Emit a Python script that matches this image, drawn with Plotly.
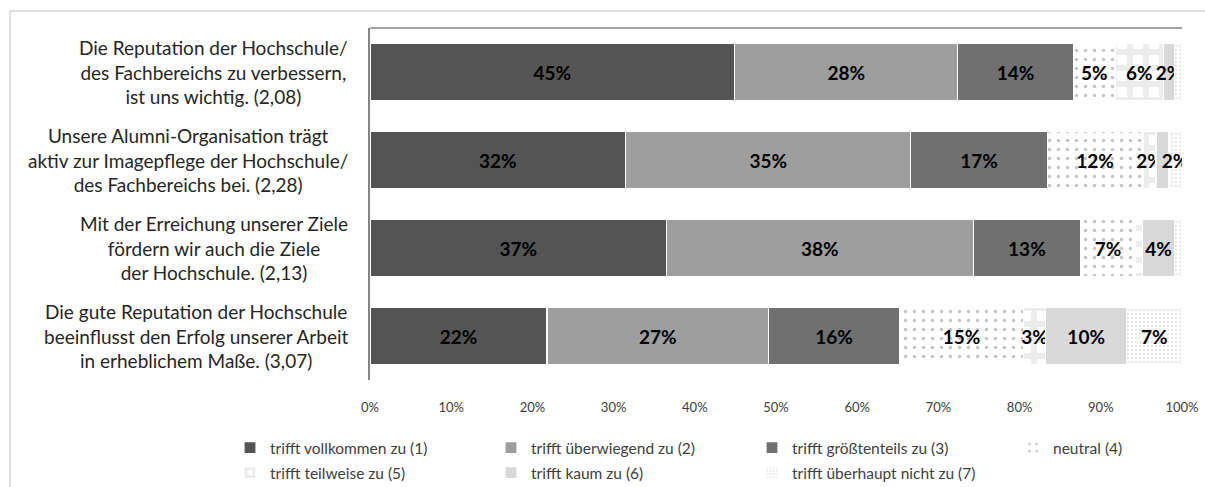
import plotly.graph_objects as go

# ---- data ----
categories = [
    "Die Reputation der Hochschule/<br>des Fachbereichs zu verbessern,<br>ist uns wichtig. (2,08)",
    "Unsere Alumni-Organisation trägt<br>aktiv zur Imagepflege der Hochschule/<br>des Fachbereichs bei. (2,28)",
    "Mit der Erreichung unserer Ziele<br>fördern wir auch die Ziele<br>der Hochschule. (2,13)",
    "Die gute Reputation der Hochschule<br>beeinflusst den Erfolg unserer Arbeit<br>in erheblichem Maße. (3,07)",
]
series_names = [
    "trifft vollkommen zu (1)",
    "trifft überwiegend zu (2)",
    "trifft größtenteils zu (3)",
    "neutral (4)",
    "trifft teilweise zu (5)",
    "trifft kaum zu (6)",
    "trifft überhaupt nicht zu (7)",
]
vollkommen = [44.9, 31.5, 36.5, 21.8]
ueberwiegend = [27.5, 35.1, 37.8, 27.3]
groesstenteils = [14.2, 16.8, 13.2, 16.1]
neutral = [5.2, 11.8, 6.8, 15.3]
teilweise = [5.9, 1.6, 0.8, 2.7]
kaum = [1.4, 1.5, 4.0, 10.0]
ueberhaupt = [0.9, 1.7, 0.9, 6.8]

labels_vollkommen = ["45%", "32%", "37%", "22%"]
labels_ueberwiegend = ["28%", "35%", "38%", "27%"]
labels_groesstenteils = ["14%", "17%", "13%", "16%"]
labels_neutral = ["5%", "12%", "7%", "15%"]
labels_teilweise = ["6%", "2%", "", "3%"]
labels_kaum = ["2%", "", "4%", "10%"]
labels_ueberhaupt = ["", "2%", "", "7%"]

tick_vals = [0, 10, 20, 30, 40, 50, 60, 70, 80, 90, 100]
tick_text = [f"{v}%" for v in tick_vals]

values = [vollkommen, ueberwiegend, groesstenteils, neutral, teilweise, kaum, ueberhaupt]
labels = [labels_vollkommen, labels_ueberwiegend, labels_groesstenteils, labels_neutral,
          labels_teilweise, labels_kaum, labels_ueberhaupt]

# ---- styles ----
styles = [
    dict(color="#545454"),
    dict(color="#9e9e9e"),
    dict(color="#707070"),
    dict(color="white", pattern=dict(shape=".", fgcolor="#8c8c8c", bgcolor="white", size=9, solidity=0.12, fillmode="overlay")),
    dict(color="white", pattern=dict(shape="+", fgcolor="#d9d9d9", bgcolor="white", size=16, solidity=0.6, fillmode="overlay")),
    dict(color="#d9d9d9"),
    dict(color="white", pattern=dict(shape=".", fgcolor="#cfcfcf", bgcolor="white", size=4, solidity=0.35, fillmode="overlay")),
]
legend_of = ["legend", "legend", "legend", "legend3", "legend2", "legend2", "legend2"]

FONT = "Lato"
fig = go.Figure()
for i, (name, vals, txt, st) in enumerate(zip(series_names, values, labels, styles)):
    marker = dict(color=st["color"], line=dict(color="white", width=1.2))
    if "pattern" in st:
        marker["pattern"] = st["pattern"]
    fig.add_trace(go.Bar(
        name=name, y=list(range(len(categories))), x=vals, orientation="h",
        text=txt, textposition="inside", insidetextanchor="middle", textangle=0,
        constraintext="none",
        textfont=dict(family=FONT, size=19, color="black", weight="bold"),
        marker=marker,
        legend=legend_of[i],
    ))

# category labels (centered lines, right-anchored block)
for i, c in enumerate(categories):
    fig.add_annotation(x=0, xref="paper", y=i, yref="y", text=c, showarrow=False,
                       xanchor="right", yanchor="middle", align="center", xshift=-20,
                       font=dict(family=FONT, size=19, color="#262626"))

# outer chart border
fig.add_shape(type="rect", xref="paper", yref="paper", x0=-0.4433, y0=-0.5, x1=1.2, y1=1.0483,
              line=dict(color="#c0c0c0", width=1), fillcolor="rgba(0,0,0,0)", layer="below")
# top plot-area line
fig.add_shape(type="line", xref="paper", yref="paper", x0=0, x1=1.0, y0=1, y1=1,
              line=dict(color="#868686", width=1.5))

legend_common = dict(orientation="h", xref="container", yref="container", xanchor="left",
                     yanchor="middle", font=dict(family=FONT, size=15.5, color="#404040"),
                     entrywidth=216, entrywidthmode="pixels", bgcolor="rgba(0,0,0,0)",
                     itemwidth=30, traceorder="normal")
row1_y = 1 - 448 / 487
row2_y = 1 - 473 / 487
leg_x = 230 / 1205
fig.update_layout(
    width=1205, height=487,
    margin=dict(l=370, r=23, t=28, b=107, autoexpand=False),
    paper_bgcolor="white", plot_bgcolor="white",
    barmode="stack", bargap=0.35,
    uniformtext=dict(minsize=19, mode="show"),
    xaxis=dict(range=[0, 100], tickvals=tick_vals, ticktext=tick_text, showgrid=False,
               zeroline=False, showline=False, ticks="", ticklabelstandoff=18,
               tickfont=dict(family=FONT, size=13, color="#404040"), fixedrange=True),
    yaxis=dict(range=[3.5, -0.5], showticklabels=False, showgrid=False, zeroline=False,
               showline=True, linecolor="#868686", linewidth=2, ticks=""),
    legend=dict(x=leg_x, y=row1_y, **legend_common),
    legend2=dict(x=leg_x, y=row2_y, **legend_common),
    legend3=dict(x=(230 + 3 * 261) / 1205, y=row1_y, **legend_common),
    showlegend=True,
)

fig.write_html("out.html", config={"displayModeBar": False},
               post_script="document.body.style.margin='0';document.body.style.overflow='hidden';")
